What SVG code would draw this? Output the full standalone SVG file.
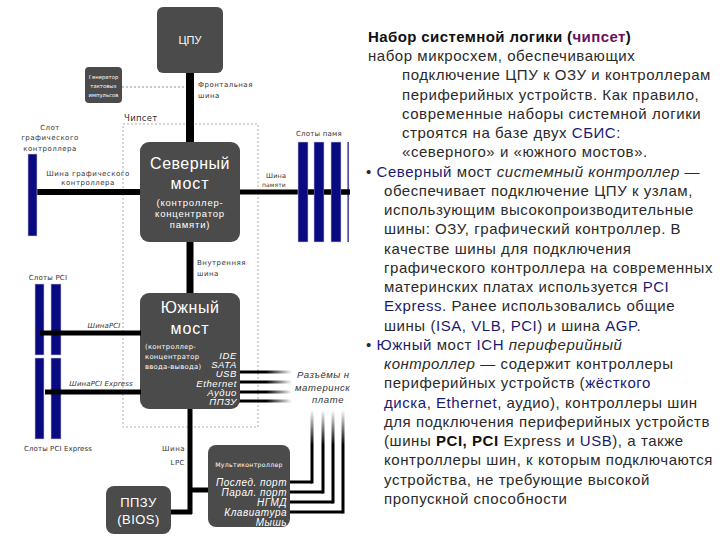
<svg xmlns="http://www.w3.org/2000/svg" width="720" height="540" viewBox="0 0 720 540">
<defs>
<linearGradient id="fadeR" gradientUnits="userSpaceOnUse" x1="240" y1="0" x2="292" y2="0">
<stop offset="0" stop-color="#000"/><stop offset="0.5" stop-color="#000"/><stop offset="1" stop-color="#fff"/>
</linearGradient>
<linearGradient id="fadeU" gradientUnits="userSpaceOnUse" x1="0" y1="410" x2="0" y2="445">
<stop offset="0" stop-color="#fff"/><stop offset="1" stop-color="#000"/>
</linearGradient>
<style>
.box{fill:#4b4b4b}
.slot{fill:#0a0a80;stroke:#c8c8e0;stroke-width:0.6}
.bus{stroke:#000;fill:none}
.lbl{font-family:"DejaVu Sans",Verdana,sans-serif;font-size:7px;fill:#333;letter-spacing:0.5px}
.wt{font-family:"Liberation Sans",Arial,sans-serif;fill:#fff}
.ws{font-family:"DejaVu Sans",Verdana,sans-serif;fill:#fff}
.it{font-style:italic}
.body{font-family:"Liberation Sans",Arial,sans-serif;font-size:15px;fill:#2a2a2a;letter-spacing:0.55px}
.nv{fill:#1a1a70}
.pu{fill:#6a1060}
</style>
</defs>
<rect width="720" height="540" fill="#fff"/>

<g id="chipset-frame">
<rect x="123" y="124" width="135" height="303" fill="none" stroke="#999" stroke-width="0.8" stroke-dasharray="2,2"/>
<text class="lbl" x="124" y="121" style="font-size:8.5px;letter-spacing:0.3px">Чипсет</text>
</g>

<g id="connectors">
<line x1="122" y1="87" x2="186" y2="87" stroke="#777" stroke-width="0.8" stroke-dasharray="2,2"/>
<line class="bus" x1="190" y1="72" x2="190" y2="143" stroke-width="8"/>
<line class="bus" x1="190" y1="241" x2="190" y2="294" stroke-width="7"/>
<line class="bus" x1="34" y1="192" x2="141" y2="192" stroke-width="6"/>
<line class="bus" x1="239" y1="192" x2="350" y2="192" stroke-width="5"/>
<line class="bus" x1="190" y1="408" x2="190" y2="514" stroke-width="5"/>
<line class="bus" x1="170" y1="512" x2="192" y2="512" stroke-width="5"/>
<line class="bus" x1="190" y1="490" x2="209" y2="490" stroke-width="5"/>
<g stroke="url(#fadeR)" stroke-width="3">
<line x1="239" y1="372" x2="292" y2="372"/>
<line x1="239" y1="382" x2="292" y2="382"/>
<line x1="239" y1="392" x2="292" y2="392"/>
<line x1="239" y1="401" x2="292" y2="401"/>
</g>
<g fill="none" stroke-width="3" stroke="#000">
<polyline points="289,482 312,482"/>
<polyline points="289,492 323,492"/>
<polyline points="289,502 333,502"/>
<polyline points="289,512 343,512"/>
</g>
<g stroke="url(#fadeU)" stroke-width="3">
<line x1="312" y1="410" x2="312" y2="483.5"/>
<line x1="323" y1="410" x2="323" y2="493.5"/>
<line x1="333" y1="410" x2="333" y2="503.5"/>
<line x1="343" y1="410" x2="343" y2="513.5"/>
</g>
</g>

<g id="cpu">
<rect class="box" x="157" y="7" width="66" height="66" rx="6"/>
<text class="wt" x="190" y="44" font-size="11" text-anchor="middle">ЦПУ</text>
</g>

<g id="clock">
<rect class="box" x="85" y="67" width="37" height="36" rx="4"/>
<text class="ws" x="103.5" y="79" font-size="5.3" text-anchor="middle">Генератор</text>
<text class="ws" x="103.5" y="88" font-size="5.3" text-anchor="middle">тактовых</text>
<text class="ws" x="103.5" y="97" font-size="5.3" text-anchor="middle">импульсов</text>
</g>

<g id="north-bridge">
<rect class="box" x="140" y="142" width="100" height="100" rx="9"/>
<text class="wt" x="190" y="169" font-size="16" text-anchor="middle" letter-spacing="0.5">Северный</text>
<text class="wt" x="190" y="189" font-size="16" text-anchor="middle" letter-spacing="1">мост</text>
<text class="wt" x="190" y="206" font-size="9.5" text-anchor="middle" letter-spacing="0.8">(контроллер-</text>
<text class="wt" x="190" y="217" font-size="9.5" text-anchor="middle" letter-spacing="0.8">концентратор</text>
<text class="wt" x="190" y="228" font-size="9.5" text-anchor="middle" letter-spacing="0.8">памяти)</text>
</g>

<g id="south-bridge">
<rect class="box" x="140" y="293" width="100" height="116" rx="9"/>
<text class="wt" x="190" y="313" font-size="16" text-anchor="middle" letter-spacing="0.5">Южный</text>
<text class="wt" x="190" y="334" font-size="16" text-anchor="middle" letter-spacing="1">мост</text>
<text class="ws" x="145" y="349" font-size="6.8" letter-spacing="0.3">(контроллер-</text>
<text class="ws" x="145" y="359" font-size="6.8" letter-spacing="0.3">концентратор</text>
<text class="ws" x="145" y="369" font-size="6.8" letter-spacing="0.3">ввода-вывода)</text>
<g font-size="9.5" text-anchor="end" letter-spacing="0.6">
<text class="wt it" x="237" y="359">IDE</text>
<text class="wt it" x="237" y="368">SATA</text>
<text class="wt it" x="237" y="377">USB</text>
<text class="wt it" x="237" y="387">Ethernet</text>
<text class="wt it" x="237" y="396">Аудио</text>
<text class="wt it" x="237" y="405">ППЗУ</text>
</g>
</g>

<g id="multicontroller">
<rect class="box" x="208" y="445" width="82" height="82" rx="8"/>
<text class="ws" x="249" y="467" font-size="6.2" text-anchor="middle" letter-spacing="0.3">Мультиконтроллер</text>
<g font-size="10" text-anchor="end" letter-spacing="0.5">
<text class="wt it" x="287" y="486">Послед. порт</text>
<text class="wt it" x="287" y="496">Парал. порт</text>
<text class="wt it" x="287" y="506">НГМД</text>
<text class="wt it" x="287" y="516">Клавиатура</text>
<text class="wt it" x="287" y="526">Мышь</text>
</g>
</g>

<g id="bios">
<rect class="box" x="106" y="486" width="65" height="48" rx="8"/>
<text class="wt" x="138.5" y="507" font-size="13" text-anchor="middle" letter-spacing="0.5">ППЗУ</text>
<text class="wt" x="138.5" y="524" font-size="13" text-anchor="middle" letter-spacing="0.5">(BIOS)</text>
</g>

<g id="graphics-slot">
<rect class="slot" x="28" y="154" width="9" height="82"/>
<text class="lbl" x="50" y="130" text-anchor="middle">Слот</text>
<text class="lbl" x="50" y="140" text-anchor="middle">графического</text>
<text class="lbl" x="50" y="151" text-anchor="middle">контроллера</text>
</g>

<g id="memory-slots">
<rect class="slot" x="298" y="142" width="10" height="100"/>
<rect class="slot" x="314" y="142" width="10" height="100"/>
<rect class="slot" x="331" y="142" width="10" height="100"/>
<rect x="347.5" y="142" width="1.2" height="100" fill="#0a0a80"/>
<line class="bus" x1="308" y1="192" x2="314" y2="192" stroke-width="5"/>
<line class="bus" x1="324" y1="192" x2="331" y2="192" stroke-width="5"/>
<line class="bus" x1="341" y1="192" x2="350" y2="192" stroke-width="5"/>
<text class="lbl" x="296" y="136" style="letter-spacing:0.2px">Слоты памя</text>
</g>

<g id="pci-slots">
<rect class="slot" x="35" y="284" width="9" height="71"/>
<rect class="slot" x="51" y="284" width="10" height="71"/>
<text class="lbl" x="48" y="280" text-anchor="middle" style="letter-spacing:0.2px">Слоты PCI</text>
</g>

<g id="pcie-slots">
<rect class="slot" x="35" y="358" width="9" height="81"/>
<rect class="slot" x="51" y="358" width="10" height="81"/>
<text class="lbl" x="58" y="451" text-anchor="middle" style="letter-spacing:0.1px">Слоты PCI Express</text>
</g>

<g id="bus-lines-over-slots">
<line class="bus" x1="40" y1="333" x2="141" y2="333" stroke-width="5"/>
<line class="bus" x1="45" y1="392" x2="141" y2="392" stroke-width="5"/>
</g>

<g id="labels">
<text class="lbl" x="198" y="87">Фронтальная</text>
<text class="lbl" x="198" y="98">шина</text>
<text class="lbl" x="88" y="176" text-anchor="middle">Шина графического</text>
<text class="lbl" x="88" y="185" text-anchor="middle">контроллера</text>
<text class="lbl" x="266" y="178" style="font-size:6.5px;letter-spacing:0.2px">Шина</text>
<text class="lbl" x="262" y="187" style="font-size:6px;letter-spacing:0.1px">памяти</text>
<text class="lbl" x="197" y="265">Внутренняя</text>
<text class="lbl" x="197" y="276">шина</text>
<text class="lbl it" x="104" y="328" text-anchor="middle" style="letter-spacing:0.1px">ШинаPCI</text>
<text class="lbl it" x="101" y="386" text-anchor="middle" style="letter-spacing:0.1px">ШинаPCI Express</text>
<text class="lbl" x="185" y="451" text-anchor="end">Шина</text>
<text class="lbl" x="185" y="465" text-anchor="end">LPC</text>
<text class="lbl it" x="297" y="378" style="font-family:'Liberation Sans',Arial,sans-serif;font-size:9.5px;letter-spacing:0.5px">Разъёмы н</text>
<text class="lbl it" x="295" y="391" style="font-family:'Liberation Sans',Arial,sans-serif;font-size:9.5px;letter-spacing:0.6px">материнск</text>
<text class="lbl it" x="312" y="403" style="font-family:'Liberation Sans',Arial,sans-serif;font-size:9.5px;letter-spacing:0.6px">плате</text>
</g>

<g id="description">
<text class="body" x="368" y="42" font-weight="bold" style="fill:#111;letter-spacing:0.4px">Набор системной логики (<tspan class="pu">чипсет</tspan>)</text>
<text class="body" x="368" y="61">набор микросхем, обеспечивающих</text>
<text class="body" x="402" y="80">подключение ЦПУ к ОЗУ и контроллерам</text>
<text class="body" x="402" y="100">периферийных устройств. Как правило,</text>
<text class="body" x="402" y="119">современные наборы системной логики</text>
<text class="body" x="402" y="138">строятся на базе двух <tspan class="nv">СБИС:</tspan></text>
<text class="body" x="402" y="157">«северного» и «южного мостов».</text>
<text class="body" x="366" y="177">• <tspan class="nv">Северный</tspan> мост  <tspan font-style="italic">системный контроллер —</tspan></text>
<text class="body" x="384" y="196">обеспечивает подключение ЦПУ к узлам,</text>
<text class="body" x="384" y="215">использующим высокопроизводительные</text>
<text class="body" x="384" y="234">шины: ОЗУ, графический контроллер. В</text>
<text class="body" x="384" y="254">качестве шины для подключения</text>
<text class="body" x="384" y="273">графического контроллера на современных</text>
<text class="body" x="384" y="292">материнских платах используется <tspan class="nv">PCI</tspan></text>
<text class="body" x="384" y="311"><tspan class="nv">Express</tspan>. Ранее использовались общие</text>
<text class="body" x="384" y="331">шины (<tspan class="nv">ISA, VLB, PCI</tspan>) и шина <tspan class="nv">AGP.</tspan></text>
<text class="body" x="366" y="350">• <tspan class="nv">Южный</tspan> мост <tspan class="nv">ICH</tspan>  <tspan font-style="italic">периферийный</tspan></text>
<text class="body" x="384" y="369"><tspan font-style="italic">контроллер</tspan> — содержит контроллеры</text>
<text class="body" x="384" y="388">периферийных устройств (<tspan class="nv">жёсткого</tspan></text>
<text class="body" x="384" y="408"><tspan class="nv">диска</tspan>, <tspan class="nv">Ethernet</tspan>, аудио), контроллеры шин</text>
<text class="body" x="384" y="427">для подключения периферийных устройств</text>
<text class="body" x="384" y="446">(шины <tspan font-weight="bold" style="fill:#111">PCI, PCI</tspan> Express и <tspan class="nv">USB</tspan>), а также</text>
<text class="body" x="384" y="465">контроллеры шин, к которым подключаются</text>
<text class="body" x="384" y="485">устройства, не требующие высокой</text>
<text class="body" x="384" y="504">пропускной способности</text>
</g>
</svg>
